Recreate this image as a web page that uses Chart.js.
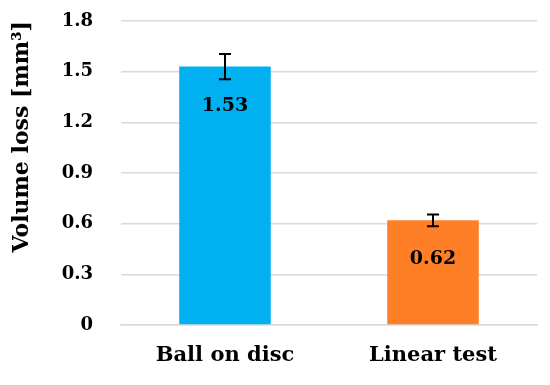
<!DOCTYPE html>
<html><head><meta charset="utf-8">
<script src="https://cdn.jsdelivr.net/npm/chart.js@4"></script>
<style>html,body{margin:0;padding:0;background:#fff}#c{display:block}</style>
</head><body>
<canvas id="c" width="550" height="385"></canvas>
<script>
const categories = ["Ball on disc", "Linear test"];
const values = [1.53, 0.62];
const errors = [0.075, 0.035];
const colors = ["#00B0F0", "#FF7F27"];
const yTicks = [0, 0.3, 0.6, 0.9, 1.2, 1.5, 1.8];
const FONT = "'DejaVu Serif', serif";

const extras = {
  id: 'extras',
  afterDatasetsDraw(chart) {
    const ctx = chart.ctx, y = chart.scales.y;
    const meta = chart.getDatasetMeta(0);
    ctx.save();
    meta.data.forEach((bar, i) => {
      const x = bar.x;
      const yt = y.getPixelForValue(values[i] + errors[i]);
      const yb = y.getPixelForValue(values[i] - errors[i]);
      ctx.strokeStyle = '#000'; ctx.lineWidth = 2;
      ctx.beginPath();
      ctx.moveTo(x, yt); ctx.lineTo(x, yb);
      ctx.moveTo(x - 6, yt); ctx.lineTo(x + 6, yt);
      ctx.moveTo(x - 6, yb); ctx.lineTo(x + 6, yb);
      ctx.stroke();
      ctx.fillStyle = '#000';
      ctx.font = "bold 19px " + FONT;
      ctx.textAlign = 'center'; ctx.textBaseline = 'middle';
      ctx.fillText(values[i].toFixed(2), x, y.getPixelForValue(values[i]) + 39);
    });
    ctx.restore();
  }
};

new Chart(document.getElementById('c'), {
  type: 'bar',
  data: { labels: categories, datasets: [{ data: values, backgroundColor: colors, categoryPercentage: 1, barPercentage: 0.44 }] },
  options: {
    responsive: false, animation: false,
    layout: { padding: { left: 0, right: 13, top: 21, bottom: 0 } },
    plugins: { legend: { display: false }, tooltip: { enabled: false } },
    scales: {
      x: {
        afterFit(s) { s.height = 60; },
        grid: { display: false, drawTicks: false },
        border: { display: true, color: '#d9d9d9', width: 1.5 },
        ticks: { color: '#000', font: { family: FONT, size: 21, weight: 'bold' }, padding: 18 }
      },
      y: {
        min: 0, max: 1.8,
        afterBuildTicks(ax) { ax.ticks = yTicks.map(v => ({ value: v })); },
        afterFit(s) { s.width = 121; s.paddingTop = 0; s.paddingBottom = 0; },
        grid: { color: '#d9d9d9', lineWidth: 1.5, drawTicks: false },
        border: { display: false },
        ticks: { color: '#000', font: { family: FONT, size: 18, weight: 'bold' }, padding: 28,
          callback: v => v === 0 ? '0' : v.toFixed(1) },
        title: { display: true, text: 'Volume loss [mm³]', align: 'end', color: '#000', font: { family: FONT, size: 22, weight: 'bold' }, padding: { top: 9, bottom: 0 } }
      }
    }
  },
  plugins: [extras]
});
</script>
</body></html>
